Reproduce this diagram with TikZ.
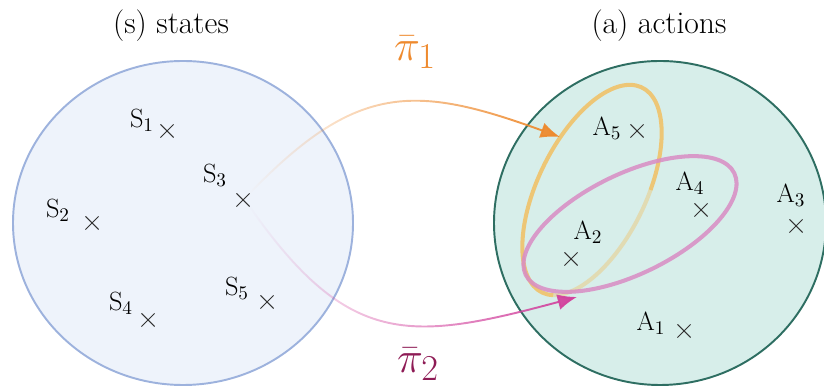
\documentclass[tikz,border=0pt]{standalone}
\usepackage{amsmath,amssymb}
\usepackage{xcolor}
\usepackage{tikz}
\usetikzlibrary{arrows.meta, positioning, shapes.misc, shapes.geometric, fadings}
\definecolor{stfill}{HTML}{EEF3FB}
\definecolor{stline}{HTML}{9DB2DD}
\definecolor{acfill}{HTML}{D7EEEA}
\definecolor{acline}{HTML}{2E6E62}
\definecolor{pione}{HTML}{EE8A2E}
\definecolor{pioneset}{HTML}{F2C062}
\definecolor{pitwo}{HTML}{D2449E}
\definecolor{pitwoset}{HTML}{D98CC4}
\definecolor{pitwotext}{HTML}{8E1B55}
\tikzfading[name=fadeinright, left color=transparent!100,
            middle color=transparent!30, right color=transparent!0]
\tikzset{
  space/.style={ellipse, line width=1.1pt, inner sep=0pt},
  xmark/.style={cross out, draw=black!80, line width=0.6pt,
                minimum size=0.24cm, inner sep=0pt},
  ptlabel/.style={font=\fontsize{15}{17}\selectfont, inner sep=0pt},
  title/.style={font=\fontsize{18}{21}\selectfont},
  setline/.style={line width=2.3pt, opacity=0.85},
  policy/.style={-{Latex[length=11pt,width=9pt]}, line width=1.1pt,
                 path fading=fadeinright},
}

\begin{document}
\begin{tikzpicture}
  \useasboundingbox (0,0) rectangle (16.48,7.74);

  % the two spaces
  \node[space, draw=stline, fill=stfill, minimum width=6.80cm,
        minimum height=6.48cm] (S) at (3.66,3.28) {};
  \node[space, draw=acline, fill=acfill, minimum width=6.64cm,
        minimum height=6.48cm] (A) at (13.20,3.28) {};
  \node[title] (Stitle) at (3.42,7.22) {(s) states};
  \node[title] (Atitle) at (13.18,7.22) {(a) actions};

  % states
  \node[xmark] (s1) at (3.34,5.12) {};
  \node[xmark] (s2) at (1.84,3.28) {};
  \node[xmark] (s3) at (4.86,3.74) {};
  \node[xmark] (s4) at (2.96,1.34) {};
  \node[xmark] (s5) at (5.34,1.70) {};
  \node[ptlabel] (s1l) at (2.84,5.34) {S$_1$};
  \node[ptlabel] (s2l) at (1.16,3.54) {S$_2$};
  \node[ptlabel] (s3l) at (4.30,4.24) {S$_3$};
  \node[ptlabel] (s4l) at (2.42,1.68) {S$_4$};
  \node[ptlabel] (s5l) at (4.74,1.98) {S$_5$};

  % policy sets
  \begin{scope}[shift={(11.84,3.94)}, rotate=64]
    \draw[setline, draw=pioneset] (-77:2.28 and 1.08)
      arc[start angle=-77, end angle=192, x radius=2.28, y radius=1.08];
    \draw[setline, draw=pioneset, opacity=0.4] (192:2.28 and 1.08)
      arc[start angle=192, end angle=283, x radius=2.28, y radius=1.08];
  \end{scope}
  \draw[setline, draw=pitwoset, rotate around={26:(12.60,3.26)}]
    (12.60,3.26) ellipse [x radius=2.32, y radius=1.00];

  % actions
  \node[xmark] (a1) at (13.68,1.12) {};
  \node[xmark] (a2) at (11.42,2.56) {};
  \node[xmark] (a3) at (15.92,3.22) {};
  \node[xmark] (a4) at (14.02,3.54) {};
  \node[xmark] (a5) at (12.74,5.12) {};
  \node[ptlabel] (a1l) at (13.02,1.28) {A$_1$};
  \node[ptlabel] (a2l) at (11.76,3.10) {A$_2$};
  \node[ptlabel] (a3l) at (15.82,3.84) {A$_3$};
  \node[ptlabel] (a4l) at (13.80,4.08) {A$_4$};
  \node[ptlabel] (a5l) at (12.14,5.18) {A$_5$};

  % policies
  \coordinate (pi1end) at (11.20,5.00);
  \coordinate (pi2end) at (11.54,1.80);
  \draw[policy, draw=pione] (s3.north east) to[out=46, in=160, looseness=1.25] (pi1end);
  \draw[policy, draw=pitwo] (s3.south east) to[out=-55, in=195, looseness=1.3] (pi2end);
  \node[text=pione, font=\fontsize{30}{34}\selectfont] (pi1) at (8.30,6.70) {$\bar{\pi}_1$};
  \node[text=pitwotext, font=\fontsize{30}{34}\selectfont] (pi2) at (8.36,0.46) {$\bar{\pi}_2$};
\end{tikzpicture}
\end{document}
